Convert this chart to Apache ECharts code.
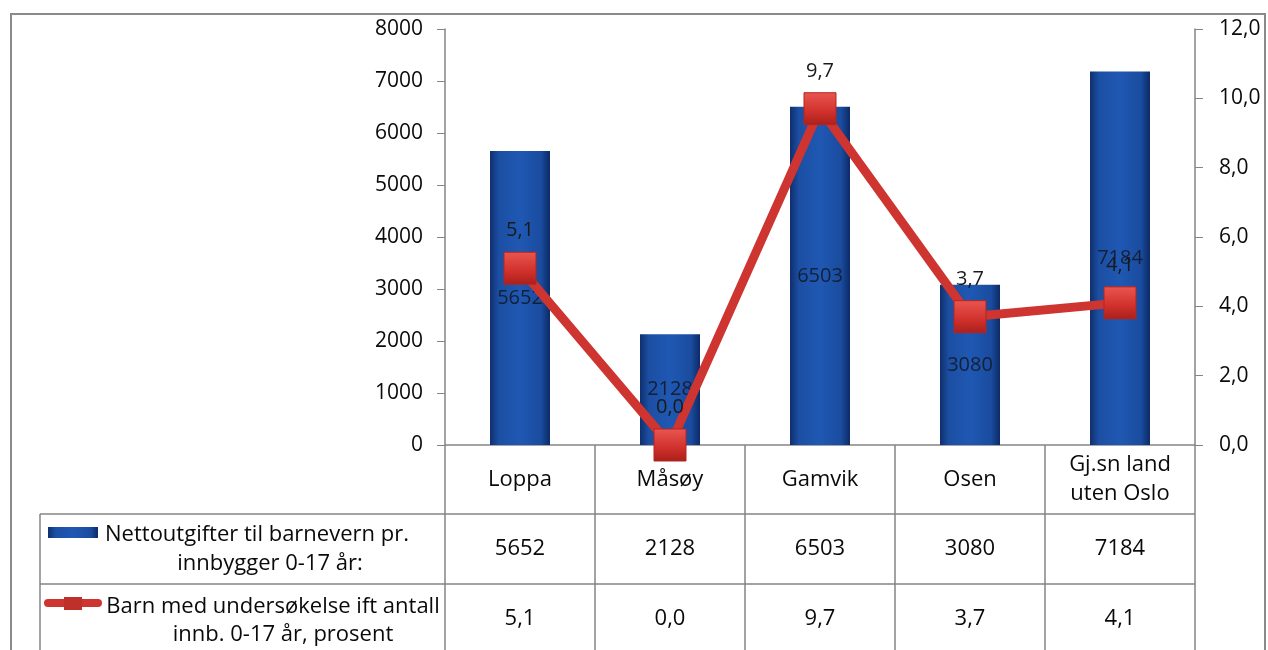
<!DOCTYPE html>
<html>
<head>
<meta charset="utf-8">
<script src="https://cdn.jsdelivr.net/npm/echarts@6/dist/echarts.min.js"></script>
<style>
  html, body { margin: 0; padding: 0; background: #fff; }
  #chart { width: 1268px; height: 650px; }
</style>
</head>
<body>
<div id="chart"></div>
<script>
// data
const categories = ['Loppa', 'Måsøy', 'Gamvik', 'Osen', 'Gj.sn land\nuten Oslo'];
const nettoutgifter = [5652, 2128, 6503, 3080, 7184];
const undersokelse = [5.1, 0.0, 9.7, 3.7, 4.1];
const seriesNames = [
  'Nettoutgifter til barnevern pr.\ninnbygger 0-17 år:',
  'Barn med undersøkelse ift antall\ninnb. 0-17 år, prosent'
];
const leftAxis = { min: 0, max: 8000, interval: 1000 };
const rightAxis = { min: 0, max: 12, interval: 2 };

const FONT = 'Open Sans';
const FS = 21;       // axis labels
const TFS = 22;      // table text
const comma = v => Number(v).toFixed(1).replace('.', ',');

const barColor = new echarts.graphic.LinearGradient(0, 0, 1, 0, [
  { offset: 0, color: '#0f2f6e' },
  { offset: 0.15, color: '#1c4fa3' },
  { offset: 0.5, color: '#1f58b3' },
  { offset: 0.85, color: '#1a4c9f' },
  { offset: 1, color: '#0c2a66' }
]);
const markerColor = new echarts.graphic.LinearGradient(0, 0, 0, 1, [
  { offset: 0, color: '#ea5650' },
  { offset: 0.6, color: '#d0302b' },
  { offset: 1, color: '#a8201c' }
]);
const lineColor = '#cf3530';
const gridColor = '#858585';
const textColor = '#0a0a0a';

const chart = echarts.init(document.getElementById('chart'));

chart.setOption({
  animation: false,
  grid: { left: 445, right: 73, top: 29, bottom: 205 },
  xAxis: {
    type: 'category',
    data: categories,
    axisLine: { lineStyle: { color: gridColor, width: 1.5 } },
    axisTick: { show: false },
    axisLabel: { show: false }
  },
  yAxis: [
    {
      type: 'value', min: leftAxis.min, max: leftAxis.max, interval: leftAxis.interval,
      splitLine: { show: false },
      axisLine: { show: true, lineStyle: { color: gridColor, width: 1.5 } },
      axisTick: { show: true, length: 8, lineStyle: { color: gridColor } },
      axisLabel: { margin: 22, color: textColor, fontFamily: FONT, fontSize: FS, formatter: v => String(v) }
    },
    {
      type: 'value', min: rightAxis.min, max: rightAxis.max, interval: rightAxis.interval,
      position: 'right',
      splitLine: { show: false },
      axisLine: { show: true, lineStyle: { color: gridColor, width: 1.5 } },
      axisTick: { show: true, length: 8, lineStyle: { color: gridColor } },
      axisLabel: { margin: 24, color: textColor, fontFamily: FONT, fontSize: FS, formatter: comma }
    }
  ],
  series: [
    {
      name: seriesNames[0],
      type: 'bar',
      data: nettoutgifter,
      barWidth: 60,
      itemStyle: { color: barColor },
      label: {
        show: true, position: 'inside', color: '#132038',
        fontFamily: FONT, fontSize: 20
      },
      z: 2
    },
    {
      name: seriesNames[1],
      type: 'line',
      yAxisIndex: 1,
      data: undersokelse,
      symbol: 'rect',
      symbolSize: 32,
      lineStyle: { color: lineColor, width: 9 },
      itemStyle: { color: markerColor, borderColor: '#b52520', borderWidth: 1 },
      label: {
        show: true, position: 'top', distance: 11, formatter: p => comma(p.value),
        color: '#1a1a1a', fontFamily: FONT, fontSize: 20
      },
      z: 3
    }
  ]
});

// data table under the plot
const xs = categories.map((c, i) => chart.convertToPixel({ xAxisIndex: 0 }, i));
const step = xs.length > 1 ? xs[1] - xs[0] : 150;
const colEdges = [xs[0] - step / 2].concat(xs.map(x => x + step / 2));
const axisY = chart.convertToPixel({ yAxisIndex: 0 }, 0);
const row1 = 514, row2 = 584, bottomY = 650;
const legendLeft = 40;

const graphics = [];
const line = (x1, y1, x2, y2) => graphics.push({
  type: 'line', shape: { x1, y1, x2, y2 },
  style: { stroke: gridColor, lineWidth: 1.5 }, silent: true
});
const text = (x, y, t) => graphics.push({
  type: 'text', x, y,
  style: { text: t, x: 0, y: 0, fill: textColor, font: TFS + 'px "' + FONT + '"', align: 'center', verticalAlign: 'middle', lineHeight: 29 },
  silent: true
});

// outer frame
graphics.push({
  type: 'rect', shape: { x: 11, y: 14, width: 1254, height: 660 },
  style: { fill: 'none', stroke: '#8a8a8a', lineWidth: 2 }, silent: true
});

colEdges.forEach(x => line(x, axisY, x, bottomY));
line(legendLeft, row1, colEdges[colEdges.length - 1], row1);
line(legendLeft, row2, colEdges[colEdges.length - 1], row2);
line(legendLeft, row1, legendLeft, bottomY);

categories.forEach((c, i) => {
  text(xs[i], (axisY + row1) / 2, c);
  text(xs[i], (row1 + row2) / 2, String(nettoutgifter[i]));
  text(xs[i], (row2 + bottomY) / 2 + 2, comma(undersokelse[i]));
});

// legend cells: each text line centred as in the reference
const legendLines = seriesNames.map(s => s.split('\n'));
const legendCentres = [[257, 270], [273, 283]];
const legendRowsY = [[535, 564], [607, 635]];
legendLines.forEach((lines, r) => lines.forEach((t, k) => text(legendCentres[r][k], legendRowsY[r][k], t)));

graphics.push({
  type: 'rect', shape: { x: 48, y: 527, width: 50, height: 11 },
  style: { fill: barColor }, silent: true
});
graphics.push({
  type: 'line', shape: { x1: 48, y1: 603, x2: 98, y2: 603 },
  style: { stroke: lineColor, lineWidth: 8, lineCap: 'round' }, silent: true
});
graphics.push({
  type: 'rect', shape: { x: 64, y: 597, width: 18, height: 13 },
  style: { fill: '#c0302b' }, silent: true
});

chart.setOption({ graphic: graphics });
</script>
</body>
</html>
